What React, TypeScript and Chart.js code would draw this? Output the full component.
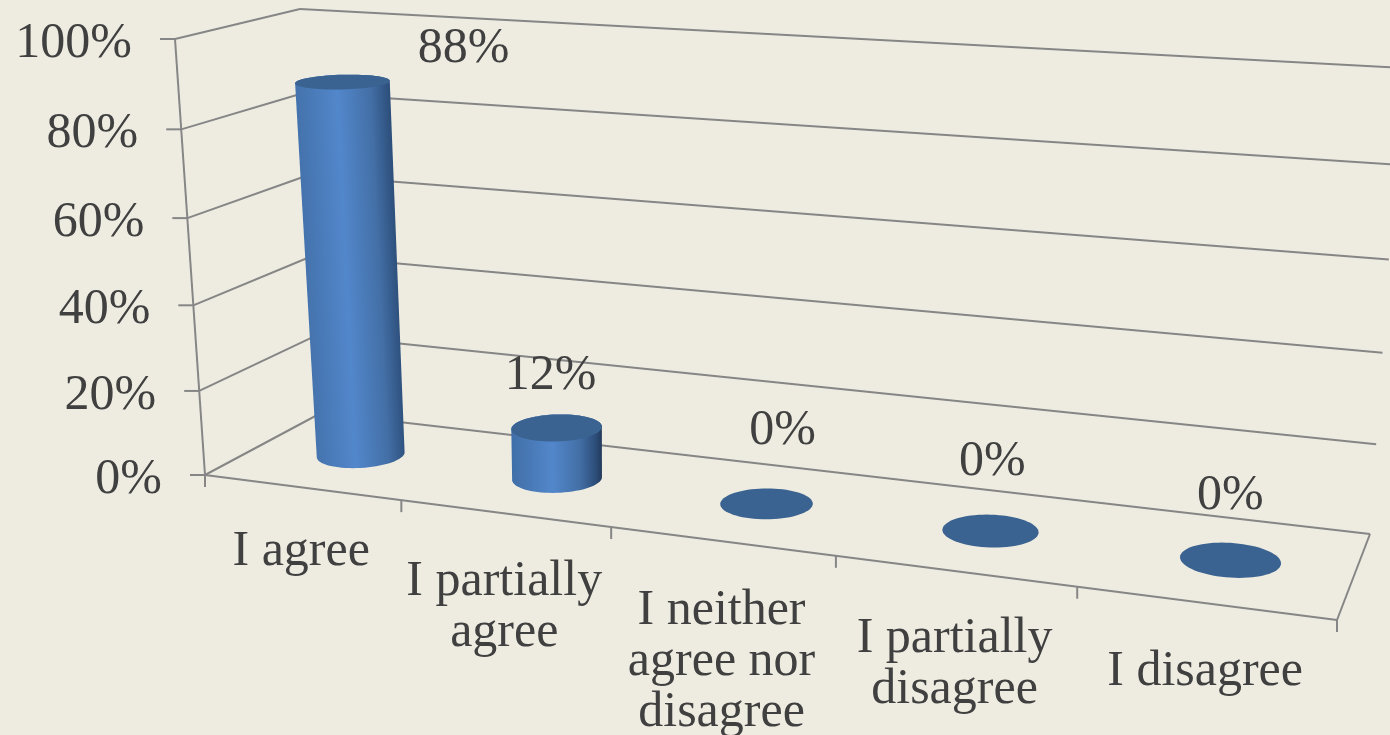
import React, { useEffect, useRef } from "react";
import { Chart, registerables } from "chart.js";

Chart.register(...registerables);

const categories: string[][] = [
  ["I agree"],
  ["I partially", "agree"],
  ["I neither", "agree nor", "disagree"],
  ["I partially", "disagree"],
  ["I disagree"],
];
const seriesName = "Responses";
const seriesValues = [88, 12, 0, 0, 0];
const axisMax = 100;
const axisStep = 20;

// Layout of the 3D box (page pixels): corners of the floor and the ceiling.
const FLOOR = [[205, 475], [1337, 620], [1370, 534], [321, 413]];
const CEIL = [[175, 39], [1372, 108], [1402, 68], [300, 9]];
const HEIGHT_BOW = 0.045; // slight perspective along the vertical axis
const BAR_NUDGE = 0.002; // cylinders sit a hair right of the category centre
const BAR_LEAN = 0.005; // and lean a little to the left as they rise
// Where each data label sits relative to the top of its cylinder.
const LABEL_SHIFT = [[121, -33], [-6, -52], [16, -73], [2, -69], [0, -64]];
// Extra downward shift of the first line of each category label.
const CATEGORY_SHIFT = [64, 68, 69, 68, 69];

const BG = "#EEECE1";
const LINE = "#868686";
const TEXT = "#404040";
const FONT = '50px "Liberation Serif"';

type Pt = [number, number];

function makeHomography(q: number[][]) {
  const [[x0, y0], [x1, y1], [x2, y2], [x3, y3]] = q;
  const dx1 = x1 - x2, dx2 = x3 - x2, dx3 = x0 - x1 + x2 - x3;
  const dy1 = y1 - y2, dy2 = y3 - y2, dy3 = y0 - y1 + y2 - y3;
  const den = dx1 * dy2 - dx2 * dy1;
  const g = (dx3 * dy2 - dx2 * dy3) / den;
  const h = (dx1 * dy3 - dx3 * dy1) / den;
  const a = x1 - x0 + g * x1, b = x3 - x0 + h * x3, c = x0;
  const d = y1 - y0 + g * y1, e = y3 - y0 + h * y3, f = y0;
  return (u: number, v: number): Pt => {
    const w = g * u + h * v + 1;
    return [(a * u + b * v + c) / w, (d * u + e * v + f) / w];
  };
}
const floorAt = makeHomography(FLOOR);
const ceilAt = makeHomography(CEIL);
const project = (u: number, v: number, h: number): Pt => {
  const a = floorAt(u, v), b = ceilAt(u, v);
  const t = h - HEIGHT_BOW * h * (1 - h);
  return [a[0] + (b[0] - a[0]) * t, a[1] + (b[1] - a[1]) * t];
};

function hull(points: Pt[]): Pt[] {
  const p = [...points].sort((a, b) => a[0] - b[0] || a[1] - b[1]);
  const cross = (o: Pt, a: Pt, b: Pt) =>
    (a[0] - o[0]) * (b[1] - o[1]) - (a[1] - o[1]) * (b[0] - o[0]);
  const lo: Pt[] = [], up: Pt[] = [];
  for (const q of p) {
    while (lo.length > 1 && cross(lo[lo.length - 2], lo[lo.length - 1], q) <= 0) lo.pop();
    lo.push(q);
  }
  for (const q of [...p].reverse()) {
    while (up.length > 1 && cross(up[up.length - 2], up[up.length - 1], q) <= 0) up.pop();
    up.push(q);
  }
  return lo.slice(0, -1).concat(up.slice(0, -1));
}

function fillPoly(ctx: CanvasRenderingContext2D, pts: Pt[], style: any) {
  ctx.beginPath();
  pts.forEach((p, i) => (i ? ctx.lineTo(p[0], p[1]) : ctx.moveTo(p[0], p[1])));
  ctx.closePath();
  ctx.fillStyle = style;
  ctx.fill();
}

function seg(ctx: CanvasRenderingContext2D, a: Pt, b: Pt) {
  ctx.beginPath();
  ctx.moveTo(a[0], a[1]);
  ctx.lineTo(b[0], b[1]);
  ctx.stroke();
}

const box3d = {
  id: "box3d",
  beforeDatasetsDraw(chart: any) {
    const { ctx, scales } = chart;
    const x = scales.x, y = scales.y;
    ctx.save();
    ctx.strokeStyle = LINE;
    ctx.lineWidth = 2;
    y.ticks.forEach((t: any) => {
      const h = (y.bottom - y.getPixelForValue(t.value)) / y.height;
      const front = project(0, 0, h), back = project(0, 1, h), end = project(1, 1, h);
      seg(ctx, [front[0] - 15, front[1]], front);
      seg(ctx, front, back);
      seg(ctx, back, end);
    });
    seg(ctx, project(0, 0, 0), project(0, 0, 1));
    seg(ctx, project(0, 0, 0), project(1, 0, 0));
    seg(ctx, project(1, 0, 0), project(1, 1, 0));
    categories.forEach((_, i) => {
      const p = project((x.getPixelForValue(i + 0.5) - x.left) / x.width, 0, 0);
      seg(ctx, p, [p[0], p[1] + 12]);
    });
    const first = project(0, 0, 0);
    seg(ctx, first, [first[0], first[1] + 12]);
    ctx.restore();
  },
  beforeDatasetDraw() {
    return false; // cylinders replace the flat bars
  },
  afterDatasetsDraw(chart: any) {
    const { ctx, scales } = chart;
    const x = scales.x, y = scales.y;
    const meta = chart.getDatasetMeta(0);
    const ds = chart.data.datasets[0];
    meta.data.forEach((bar: any, i: number) => {
      const { x: bx, y: by, base, width } = bar.getProps(["x", "y", "base", "width"], true);
      const u = (bx - x.left) / x.width + BAR_NUDGE;
      const ru = width / x.width / 2;
      const rv = 0.2;
      const v = 0.5;
      const h0 = (y.bottom - base) / y.height;
      const h1 = (y.bottom - by) / y.height;
      const ring = (h: number): Pt[] => {
        const out: Pt[] = [];
        for (let k = 0; k < 72; k++) {
          const t = (k / 72) * Math.PI * 2;
          out.push(project(u - BAR_LEAN * h + ru * Math.cos(t), v + rv * Math.sin(t), h));
        }
        return out;
      };
      const bottom = ring(h0), top = ring(h1);
      const c0 = project(u - BAR_LEAN * h0, v, h0), c1 = project(u - BAR_LEAN * h1, v, h1);
      if (h1 > h0) {
        const shape = hull(bottom.concat(top));
        const mid: Pt = [(c0[0] + c1[0]) / 2, (c0[1] + c1[1]) / 2];
        const ax = c1[0] - c0[0], ay = c1[1] - c0[1];
        const len = Math.hypot(ax, ay) || 1;
        const nx = -ay / len, ny = ax / len;
        const half = (Math.max(...shape.map((p) => p[0])) - Math.min(...shape.map((p) => p[0]))) / 2;
        const sgn = nx > 0 ? 1 : -1;
        const g = ctx.createLinearGradient(
          mid[0] - nx * half * sgn, mid[1] - ny * half * sgn,
          mid[0] + nx * half * sgn, mid[1] + ny * half * sgn
        );
        g.addColorStop(0, "#3F6FA8");
        g.addColorStop(0.12, "#4675B0");
        g.addColorStop(0.45, "#5287CB");
        g.addColorStop(0.75, "#436FA6");
        g.addColorStop(0.92, "#2D4F7B");
        g.addColorStop(1, "#22395A");
        fillPoly(ctx, shape, g);
      }
      fillPoly(ctx, top, ds.backgroundColor);

      const s = LABEL_SHIFT[i];
      ctx.save();
      ctx.font = FONT;
      ctx.fillStyle = TEXT;
      ctx.textAlign = "center";
      ctx.textBaseline = "middle";
      ctx.fillText(`${ds.data[i]}%`, c1[0] + s[0], c1[1] + s[1]);
      ctx.restore();
    });

    ctx.save();
    ctx.font = FONT;
    ctx.fillStyle = TEXT;
    ctx.textBaseline = "middle";
    ctx.textAlign = "right";
    y.ticks.forEach((t: any) => {
      const h = (y.bottom - y.getPixelForValue(t.value)) / y.height;
      const p = project(0, 0, h);
      ctx.fillText(`${t.value}%`, p[0] - 43, p[1] + 5);
    });
    ctx.textAlign = "center";
    categories.forEach((_, i) => {
      const a = project((x.getPixelForValue(i - 0.5) - x.left) / x.width, 0, 0);
      const b = project((x.getPixelForValue(i + 0.5) - x.left) / x.width, 0, 0);
      const lines = x.getLabelForValue(i);
      const list: string[] = Array.isArray(lines) ? lines : String(lines).split(",");
      list.forEach((line, k) => {
        ctx.fillText(line, (a[0] + b[0]) / 2 - 2, (a[1] + b[1]) / 2 + CATEGORY_SHIFT[i] + k * 51);
      });
    });
    ctx.restore();
  },
};

export default function App() {
  const ref = useRef<HTMLCanvasElement>(null);
  useEffect(() => {
    document.body.style.margin = "0";
    document.body.style.background = BG;
    const chart = new Chart(ref.current as HTMLCanvasElement, {
      type: "bar",
      data: {
        labels: categories as any,
        datasets: [
          {
            label: seriesName,
            data: seriesValues,
            backgroundColor: "#3B6391",
            barPercentage: 0.4,
            categoryPercentage: 1,
          },
        ],
      },
      options: {
        responsive: false,
        animation: false,
        layout: { padding: 0 },
        plugins: { legend: { display: false }, tooltip: { enabled: false } },
        scales: {
          x: { display: false },
          y: { display: false, min: 0, max: axisMax, ticks: { stepSize: axisStep } },
        },
      },
      plugins: [box3d],
    } as any);
    return () => chart.destroy();
  }, []);
  return (
    <canvas
      ref={ref}
      width={1390}
      height={735}
      style={{ display: "block", width: 1390, height: 735, background: BG }}
    />
  );
}
